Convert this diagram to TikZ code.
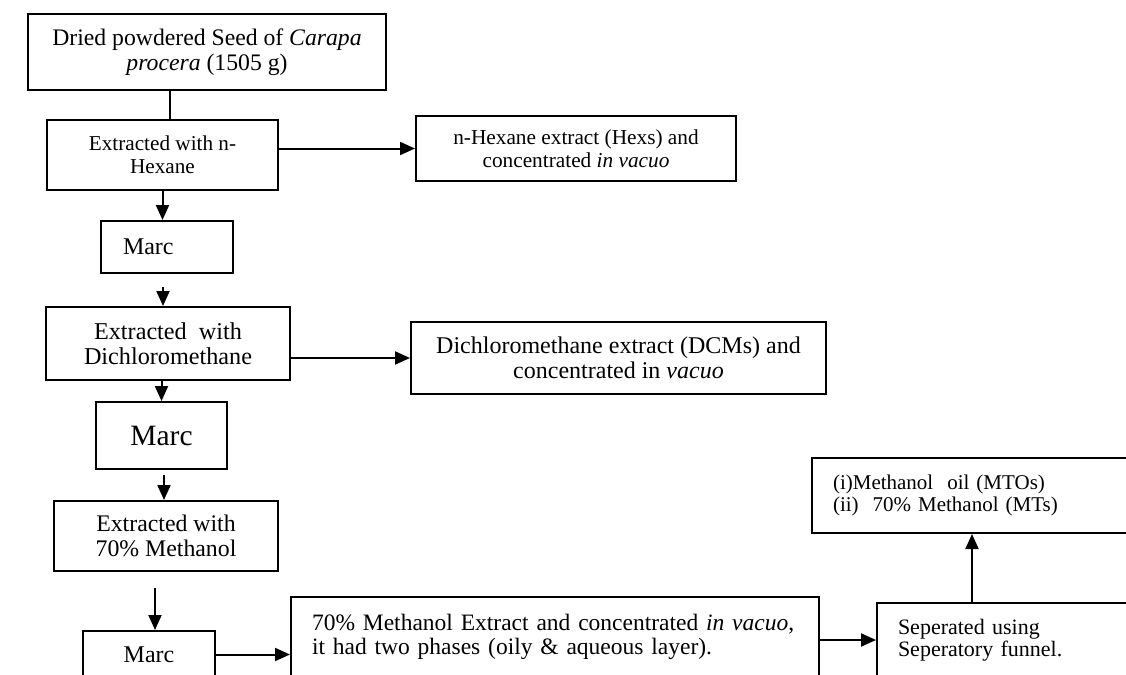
\documentclass[tikz,border=0pt]{standalone}
\usepackage{fontspec}
\setmainfont{Liberation Serif}
\usetikzlibrary{arrows.meta}

\begin{document}
\begin{tikzpicture}
  [x=1pt,y=-1pt,
   box/.style={rectangle,draw=black,line width=2pt,inner sep=0pt,align=center},
   lbox/.style={box,align=left,inner xsep=21pt},
   arr/.style={-{Triangle[length=15pt,width=13pt]},line width=2pt}]
  \useasboundingbox (0,0) rectangle (1126,674);
  \clip (0,0) rectangle (1126,674);
  \fill [white] (0,0) rectangle (1126,674);

  % left column
  \node [box,minimum width=358pt,minimum height=76pt,font=\fontsize{23.7}{25}\selectfont] (seed) at (207,52)
    {Dried powdered Seed of \textit{Carapa}\\\textit{procera} (1505 g)};
  \node [box,minimum width=231pt,minimum height=70pt,font=\fontsize{21.2}{23}\selectfont] (hexane) at (162.5,155)
    {Extracted with n-\\Hexane};
  \node [lbox,inner xsep=22pt,text width=88pt,minimum height=52pt,font=\fontsize{24}{25}\selectfont] (marcA) at (167,247) {Marc};
  \node [box,minimum width=244pt,minimum height=73pt,font=\fontsize{24.2}{25}\selectfont] (dcm) at (168,343.5)
    {Extracted\ \ with\\Dichloromethane};
  \node [box,minimum width=131pt,minimum height=67pt,font=\fontsize{29.5}{30}\selectfont] (marcB) at (161.5,435.5) {Marc};
  \node [box,minimum width=224pt,minimum height=70pt,font=\fontsize{23.8}{25}\selectfont] (meth) at (166,536)
    {Extracted with\\70\% Methanol};
  \node [box,minimum width=132pt,minimum height=47pt,font=\fontsize{24}{25}\selectfont] (marcC) at (149,654.5) {Marc};

  % extracts
  \node [box,minimum width=320pt,minimum height=65pt,font=\fontsize{21.3}{23}\selectfont] (hexext) at (576,148.5)
    {n-Hexane extract (Hexs) and\\concentrated \textit{in vacuo}};
  \node [box,minimum width=415pt,minimum height=72pt,font=\fontsize{24}{24.5}\selectfont] (dcmext) at (618.5,358)
    {Dichloromethane extract (DCMs) and\\concentrated in \textit{vacuo}};
  \node [lbox,text width=486pt,minimum height=80pt,font=\fontsize{23.5}{24.5}\selectfont] (methext) at (555,637)
    {70\% Methanol Extract and concentrated \textit{in vacuo},\\it had two phases (oily \& aqueous layer).};
  \node [lbox,text width=221pt,minimum height=74pt,font=\fontsize{22}{22.5}\selectfont] (sep) at (1008.5,640)
    {Seperated using\\Seperatory funnel.};
  \node [lbox,text width=286pt,minimum height=75pt,font=\fontsize{21}{22}\selectfont] (phases) at (976,495.5)
    {(i)Methanol\ \ oil (MTOs)\\(ii)\ \ 70\% Methanol (MTs)};

  % free ends
  \coordinate (seeddown) at ([xshift=-37pt]seed.south);
  \coordinate (gapA) at (163,287);
  \coordinate (gapB) at (164,475);
  \coordinate (gapC) at (155,588);
  \coordinate (sepup) at ([xshift=-36.5pt]sep.north);

  \draw [line width=2pt] (seeddown) -- (seeddown |- hexane.north);
  \draw [arr] (hexane.east |- hexext.west) -- (hexext.west);
  \draw [arr] (hexane.south) -- (hexane.south |- marcA.north);
  \draw [arr] (gapA) -- (gapA |- dcm.north);
  \draw [arr] (dcm.east |- dcmext.west) -- (dcmext.west);
  \draw [arr] (dcm.south -| marcB.north) -- (marcB.north);
  \draw [arr] (gapB) -- (gapB |- meth.north);
  \draw [arr] (gapC) -- (gapC |- marcC.north);
  \draw [arr] (marcC.east) -- (marcC.east -| methext.west);
  \draw [arr] (methext.east |- sep.west) -- (sep.west);
  \draw [arr] (sepup) -- (sepup |- phases.south);
\end{tikzpicture}
\end{document}
